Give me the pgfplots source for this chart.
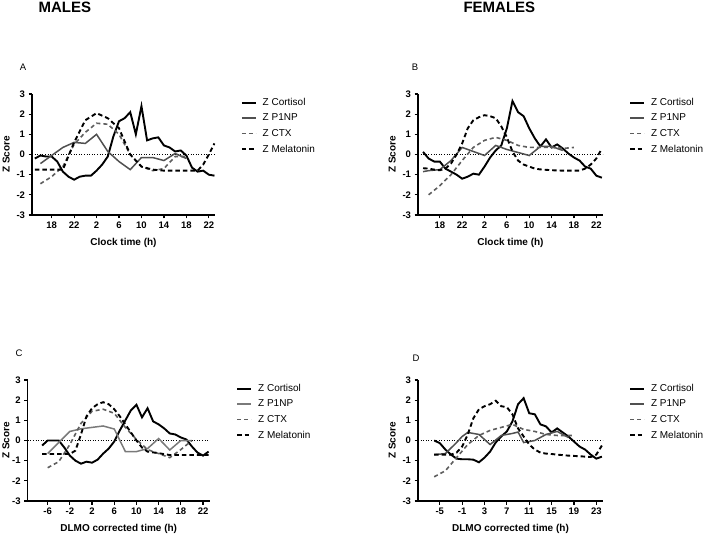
\documentclass[border=0pt]{standalone}
\usepackage{pgfplots}
\pgfplotsset{compat=1.18}
\usepackage{fontspec}
\setmainfont{Liberation Sans}
\definecolor{pgray}{HTML}{505050}
\definecolor{lgray}{HTML}{7A7A7A}
\definecolor{cgray}{HTML}{5E5E5E}
\pgfplotsset{
  panel/.style={
    scale only axis, height=121pt,
    axis x line*=bottom, axis y line*=left,
    axis line style={line width=1.5pt,-},
    every tick/.style={line width=1.2pt,black},
    tick align=outside, major tick length=3.5pt,
    ymin=-3, ymax=3, ytick={-3,-2,-1,0,1,2,3}, yticklabels={-3,-2,-1,0,1,2,3},
    ticklabel style={font=\fontsize{9.5}{11}\selectfont\bfseries},
    label style={font=\fontsize{10}{12}\selectfont\bfseries},
    xlabel style={yshift=-3pt},
    ylabel={Z Score},
    legend cell align=left,
    legend style={draw=none, fill=none, anchor=north west, inner sep=0pt,
      font=\fontsize{10}{12}\selectfont, row sep=5pt, column sep=5pt,
      nodes={inner sep=1pt}},
    legend image code/.code={\draw[##1] (0pt,0pt) -- (14pt,0pt);},
  },
  cort/.style={black, line width=1.9pt},
  p1np/.style={pgray, line width=1.5pt},
  ctx/.style={cgray, line width=1.6pt, dash pattern=on 4pt off 3pt},
  mel/.style={black, line width=1.9pt, dash pattern=on 4.5pt off 3pt},
  zero/.style={black, line width=0.9pt, dash pattern=on 1pt off 1.6pt, forget plot},
}
\begin{document}
\begin{tikzpicture}
\useasboundingbox (0,0) rectangle (703pt,533pt);
\node[anchor=base west, font=\fontsize{15}{17}\selectfont\bfseries] at (35pt,520.5pt) {MALES};
\node[anchor=base west, font=\fontsize{15}{17}\selectfont\bfseries] at (460pt,520.5pt) {FEMALES};
\node[font=\fontsize{9.5}{10}\selectfont] at (23pt,466pt) {A};
\node[font=\fontsize{9.5}{10}\selectfont] at (415pt,466pt) {B};
\node[font=\fontsize{9.5}{10}\selectfont] at (19pt,180pt) {C};
\node[font=\fontsize{9.5}{10}\selectfont] at (416pt,175pt) {D};

% ---------------- A
\begin{axis}[panel, at={(32pt,318pt)}, anchor=south west, width=183pt,
  xmin=14.5, xmax=47.1, xtick={18,22,26,30,34,38,42,46},
  xticklabels={18,22,2,6,10,14,18,22}, xlabel={Clock time (h)},
  legend style={at={(1.14,0.975)}}]
\addplot[zero] coordinates {(14.5,0) (47.1,0)};
\addplot[cort] coordinates {(15,-0.2)(16,-0.05)(17,-0.1)(18,-0.1)(19,-0.35)(20,-0.85)(21,-1.1)(22,-1.25)(23,-1.1)(24,-1.05)(25,-1.05)(26,-0.8)(27,-0.5)(28,-0.1)(29,0.9)(30,1.65)(31,1.8)(32,2.1)(33,1.0)(34,2.4)(35,0.7)(36,0.8)(37,0.85)(38,0.45)(39,0.35)(40,0.15)(41,0.2)(42,-0.05)(43,-0.65)(44,-0.85)(45,-0.8)(46,-1.0)(47,-1.05)};
\addplot[p1np] coordinates {(16,-0.45)(18,-0.05)(20,0.35)(22,0.6)(24,0.55)(26,1.0)(28,0.15)(30,-0.35)(32,-0.75)(34,-0.15)(36,-0.15)(38,-0.3)(40,0.05)(42,-0.2)};
\addplot[ctx] coordinates {(16,-1.45)(18,-1.1)(20,-0.6)(22,0.5)(24,1.1)(26,1.55)(28,1.5)(30,1.0)(32,0.0)(34,-0.6)(36,-0.8)(38,-0.7)(40,-0.1)(42,-0.1)};
\addplot[mel] coordinates {(15,-0.75)(16,-0.75)(18,-0.75)(20,-0.75)(22,0.6)(24,1.7)(26,2.05)(28,1.8)(30,1.3)(32,0.0)(34,-0.6)(36,-0.75)(38,-0.8)(40,-0.8)(42,-0.8)(44,-0.8)(45,-0.5)(46,0.0)(47,0.55)};
\legend{Z Cortisol, Z P1NP, Z CTX, Z Melatonin}
\end{axis}

% ---------------- B
\begin{axis}[panel, at={(418pt,318pt)}, anchor=south west, width=185pt,
  xmin=14.1, xmax=47.2, xtick={18,22,26,30,34,38,42,46},
  xticklabels={18,22,2,6,10,14,18,22}, xlabel={Clock time (h)},
  legend style={at={(1.14,0.975)}}]
\addplot[zero] coordinates {(14.1,0) (47.2,0)};
\addplot[cort] coordinates {(15,0.13)(16,-0.2)(17,-0.35)(18,-0.35)(19,-0.7)(20,-0.85)(21,-1.0)(22,-1.2)(23,-1.1)(24,-0.95)(25,-1.0)(26,-0.6)(27,-0.15)(28,0.2)(29,0.45)(30,1.3)(31,2.65)(32,2.1)(33,1.9)(34,1.3)(35,0.8)(36,0.4)(37,0.75)(38,0.35)(39,0.5)(40,0.3)(41,0.05)(42,-0.15)(43,-0.3)(44,-0.6)(45,-0.7)(46,-1.05)(47,-1.15)};
\addplot[p1np] coordinates {(15,-0.85)(16,-0.8)(18,-0.75)(20,-0.3)(22,0.35)(24,0.15)(26,-0.05)(28,0.45)(30,0.25)(32,0.1)(34,-0.05)(36,0.4)(38,0.4)(40,0.2)};
\addplot[ctx] coordinates {(16,-2.0)(18,-1.55)(20,-1.0)(22,-0.3)(24,0.35)(26,0.7)(28,0.85)(30,0.7)(32,0.45)(34,0.35)(36,0.35)(38,0.35)(40,0.3)(42,0.35)};
\addplot[mel] coordinates {(15,-0.68)(16,-0.7)(17,-0.75)(18,-0.78)(19,-0.7)(20,-0.45)(21,0.0)(22,0.55)(23,1.3)(24,1.7)(25,1.85)(26,1.95)(27,1.9)(28,1.8)(29,1.4)(30,0.85)(31,0.15)(32,-0.3)(33,-0.5)(34,-0.6)(35,-0.7)(36,-0.74)(38,-0.78)(40,-0.8)(42,-0.8)(43,-0.8)(44,-0.7)(45,-0.5)(46,-0.2)(47,0.3)};
\legend{Z Cortisol, Z P1NP, Z CTX, Z Melatonin}
\end{axis}

% ---------------- C
\begin{axis}[panel, at={(27.7pt,32pt)}, anchor=south west, width=182pt,
  xmin=-9.6, xmax=23.2, xtick={-6,-2,2,6,10,14,18,22},
  xticklabels={-6,-2,2,6,10,14,18,22}, xlabel={DLMO corrected time (h)},
  ylabel shift=-4pt,
  legend style={at={(1.145,0.975)}}]
\addplot[zero] coordinates {(-9.6,0) (23.2,0)};
\addplot[cort] coordinates {(-7,-0.25)(-6,0.0)(-5,0.0)(-4,0.0)(-3,-0.35)(-2,-0.75)(-1,-1.0)(0,-1.15)(1,-1.05)(2,-1.1)(3,-0.95)(4,-0.65)(5,-0.4)(6,-0.05)(7,0.5)(8,1.0)(9,1.5)(10,1.77)(11,1.15)(12,1.6)(13,0.95)(14,0.8)(15,0.6)(16,0.35)(17,0.3)(18,0.15)(19,0.05)(20,-0.3)(21,-0.6)(22,-0.75)(23,-0.55)};
\addplot[lgray, line width=1.5pt] coordinates {(-6,-0.65)(-4,-0.1)(-2,0.45)(0,0.58)(2,0.65)(4,0.72)(6,0.57)(8,-0.55)(10,-0.55)(12,-0.4)(14,0.1)(16,-0.47)(18,0.0)(20,0.0)};
\addplot[ctx] coordinates {(-6,-1.35)(-4,-1.05)(-2,-0.2)(0,0.85)(2,1.45)(4,1.55)(6,1.35)(8,0.65)(10,0.05)(12,-0.45)(14,-0.65)(16,-0.85)(18,-0.45)(20,0.0)};
\addplot[mel] coordinates {(-7,-0.67)(-6,-0.67)(-4,-0.67)(-2,-0.67)(-1,-0.5)(0,0.3)(1,1.2)(2,1.6)(3,1.8)(4,1.9)(5,1.8)(6,1.55)(7,1.2)(8,0.8)(9,0.4)(10,0.0)(11,-0.35)(12,-0.55)(14,-0.63)(16,-0.72)(18,-0.72)(20,-0.72)(22,-0.72)(23,-0.72)};
\legend{Z Cortisol, Z P1NP, Z CTX, Z Melatonin}
\end{axis}

% ---------------- D
\begin{axis}[panel, at={(418pt,32pt)}, anchor=south west, width=185pt,
  xmin=-8.9, xmax=24.2, xtick={-5,-1,3,7,11,15,19,23},
  xticklabels={-5,-1,3,7,11,15,19,23}, xlabel={DLMO corrected time (h)},
  legend style={at={(1.14,0.975)}}]
\addplot[zero] coordinates {(-8.9,0) (24.2,0)};
\addplot[cort] coordinates {(-6,0.0)(-5,-0.13)(-4,-0.45)(-3,-0.7)(-2,-0.9)(-1,-0.93)(0,-0.93)(1,-0.95)(2,-1.08)(3,-0.85)(4,-0.55)(5,-0.1)(6,0.2)(7,0.45)(8,0.95)(9,1.8)(10,2.1)(11,1.35)(12,1.3)(13,0.8)(14,0.7)(15,0.4)(16,0.6)(17,0.4)(18,0.2)(19,-0.05)(20,-0.3)(21,-0.45)(22,-0.7)(23,-0.9)(24,-0.8)};
\addplot[p1np] coordinates {(-6,-0.7)(-4,-0.65)(-2,-0.1)(-1,0.2)(0,0.4)(2,0.3)(4,-0.2)(6,0.25)(8,0.35)(9,0.42)(10,-0.1)(12,0.0)(14,0.3)(16,0.45)(18,0.15)};
\addplot[ctx] coordinates {(-6,-1.8)(-4,-1.5)(-2,-0.85)(0,-0.2)(2,0.25)(4,0.5)(6,0.65)(8,0.8)(10,0.55)(12,0.45)(14,0.3)(16,0.25)(18,0.25)(19,0.25)};
\addplot[mel] coordinates {(-6,-0.7)(-5,-0.7)(-4,-0.7)(-3,-0.7)(-2,-0.6)(-1,-0.3)(0,0.3)(1,1.1)(2,1.55)(3,1.7)(4,1.8)(5,1.97)(6,1.7)(7,1.65)(8,1.3)(9,0.6)(10,0.2)(11,-0.2)(12,-0.45)(13,-0.6)(14,-0.65)(15,-0.67)(16,-0.7)(18,-0.75)(20,-0.78)(22,-0.82)(23,-0.7)(24,-0.25)};
\legend{Z Cortisol, Z P1NP, Z CTX, Z Melatonin}
\end{axis}
\end{tikzpicture}
\end{document}
